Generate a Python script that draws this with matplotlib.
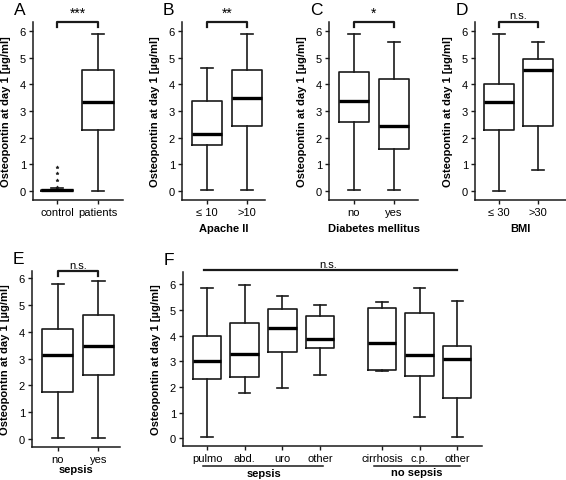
import matplotlib.pyplot as plt

plt.rcParams['font.family'] = ['Liberation Sans', 'DejaVu Sans']
plt.rcParams['font.size'] = 8

# five-number summaries per box: whisker low, Q1, median, Q3, whisker high
a_labels = ['control', 'patients']
a_stats = [[0.0, 0.01, 0.03, 0.05, 0.1], [0.0, 2.28, 3.35, 4.55, 5.88]]
a_fliers = [[0.15, 0.42, 0.67, 0.9], []]

b_labels = ['\u2264 10', '>10']
b_stats = [[0.03, 1.72, 2.15, 3.37, 4.63], [0.03, 2.43, 3.48, 4.55, 5.9]]

c_labels = ['no', 'yes']
c_stats = [[0.03, 2.6, 3.38, 4.45, 5.88], [0.03, 1.58, 2.45, 4.2, 5.58]]

d_labels = ['\u2264 30', '>30']
d_stats = [[0.0, 2.28, 3.33, 4.0, 5.88], [0.8, 2.42, 4.53, 4.95, 5.58]]

e_labels = ['no', 'yes']
e_stats = [[0.03, 1.75, 3.15, 4.1, 5.8], [0.02, 2.4, 3.48, 4.62, 5.9]]

f_labels = ['pulmo', 'abd.', 'uro', 'other', 'cirrhosis', 'c.p.', 'other']
f_pos = [1, 2, 3, 4, 5.65, 6.65, 7.65]
f_stats = [[0.04, 2.3, 3.03, 4.0, 5.85],
           [1.77, 2.4, 3.3, 4.48, 5.97],
           [1.95, 3.35, 4.3, 5.03, 5.55],
           [2.45, 3.53, 3.88, 4.76, 5.19],
           [2.62, 2.67, 3.71, 5.06, 5.3],
           [0.82, 2.42, 3.23, 4.9, 5.84],
           [0.06, 1.58, 3.09, 3.59, 5.34]]

ylab = 'Osteopontin at day 1 [\u00b5g/ml]'
col = '#1a1a1a'

W, H = 566, 481
fig = plt.figure(figsize=(W / 100, H / 100), dpi=100)


def panel(box, letter, labels, stats, xlim, ylim, pos=None, fliers=None, xlabel=None, xlab_y=-0.157):
    l, t, r, b = box
    ax = fig.add_axes([l / W, (H - b) / H, (r - l) / W, (b - t) / H])
    if pos is None:
        pos = list(range(1, len(stats) + 1))
    if fliers is None:
        fliers = [[] for s in stats]
    bx = []
    for lab, s, f in zip(labels, stats, fliers):
        bx.append(dict(label=lab, whislo=s[0], q1=s[1], med=s[2], q3=s[3], whishi=s[4], fliers=f))
    ax.bxp(bx, positions=pos, widths=0.76, capwidths=0.3,
           boxprops=dict(color=col, lw=1.2), whiskerprops=dict(color=col, lw=1.2),
           capprops=dict(color=col, lw=1.2), medianprops=dict(color='k', lw=2.4),
           flierprops=dict(marker='*', ms=2.4, mfc=col, mec=col, mew=0.4))
    ax.set_xlim(xlim)
    ax.set_ylim(ylim)
    ax.set_yticks(range(7))
    for s in ['top', 'right']:
        ax.spines[s].set_visible(False)
    for s in ['left', 'bottom']:
        ax.spines[s].set_linewidth(1.1)
        ax.spines[s].set_color(col)
    ax.tick_params(direction='out', length=3, width=1, pad=2, colors=col, labelcolor='k')
    ax.set_ylabel(ylab, fontweight='bold', va='center')
    ax.yaxis.set_label_coords(-27 / (r - l), 0.5)
    if xlabel:
        ax.set_xlabel(xlabel, fontweight='bold', va='center')
        ax.xaxis.set_label_coords(0.5, xlab_y)
    fig.text((l - 19) / W, 1 - (t - 20) / H, letter, fontsize=12.5, va='top', ha='left')
    return ax


def bracket(ax, x1, x2, text, top=1.002, leg=0.972, size=8):
    tr = ax.get_xaxis_transform()
    ax.plot([x1, x1, x2, x2], [leg, top, top, leg], color=col, lw=1.6, transform=tr, clip_on=False)
    ax.text((x1 + x2) / 2, top + 0.008, text, transform=tr, ha='center', va='bottom', fontsize=size)


ax = panel((33, 23, 123, 201), 'A', a_labels, a_stats, (0.415, 2.61), (-0.34, 6.34), fliers=a_fliers)
bracket(ax, 1, 2, '***', size=10)
ax = panel((182, 23, 265, 201), 'B', b_labels, b_stats, (0.375, 2.45), (-0.34, 6.34), xlabel='Apache II')
bracket(ax, 1, 2, '**', size=10)
ax = panel((329, 23, 418, 201), 'C', c_labels, c_stats, (0.375, 2.6), (-0.34, 6.34), xlabel='Diabetes mellitus')
bracket(ax, 1, 2, '*', size=10)
ax = panel((475, 23, 566, 201), 'D', d_labels, d_stats, (0.385, 2.72), (-0.34, 6.34), xlabel='BMI')
bracket(ax, 1, 2, 'n.s.')
ax = panel((32, 272, 120, 448), 'E', e_labels, e_stats, (0.37, 2.53), (-0.31, 6.28), xlabel='sepsis', xlab_y=-0.125)
bracket(ax, 1, 2, 'n.s.', top=1.0, leg=0.973)

ax = panel((183, 273, 482, 447), 'F', f_labels, f_stats, (0.36, 8.31), (-0.3, 6.48), pos=f_pos)
tr = ax.get_xaxis_transform()
ax.plot([0.92, 7.65], [1.013, 1.013], color=col, lw=1.6, transform=tr, clip_on=False)
ax.text(4.22, 1.02, 'n.s.', transform=tr, ha='center', va='bottom', fontsize=8)
ax.plot([0.89, 4.09], [-0.113, -0.113], color=col, lw=1.1, transform=tr, clip_on=False)
ax.plot([5.44, 7.73], [-0.113, -0.113], color=col, lw=1.1, transform=tr, clip_on=False)
ax.text(2.5, -0.158, 'sepsis', transform=tr, ha='center', va='center', fontweight='bold')
ax.text(6.58, -0.152, 'no sepsis', transform=tr, ha='center', va='center', fontweight='bold')

fig.savefig('out.png', dpi=100)
